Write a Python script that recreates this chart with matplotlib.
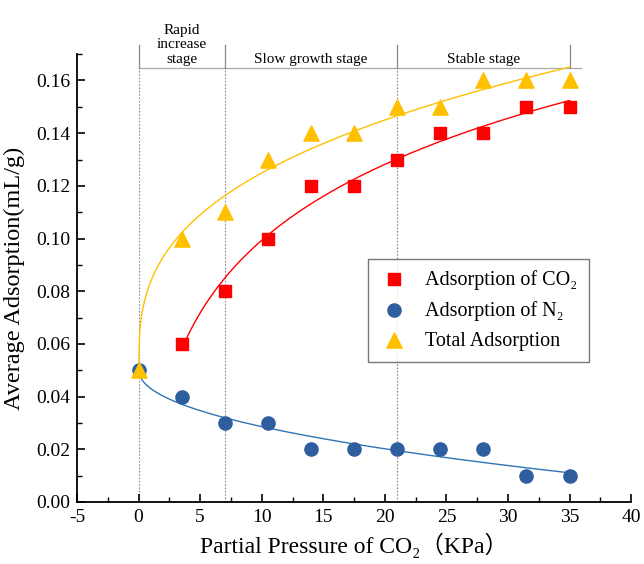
import numpy as np
import matplotlib.pyplot as plt
from matplotlib.ticker import MultipleLocator, FormatStrFormatter

plt.rcParams['font.family'] = ['Liberation Serif', 'DejaVu Serif', 'Noto Sans CJK SC']
plt.rcParams['axes.unicode_minus'] = False

# data
pressure = [0, 3.5, 7, 10.5, 14, 17.5, 21, 24.5, 28, 31.5, 35]
co2_x = [3.5, 7, 10.5, 14, 17.5, 21, 24.5, 28, 31.5, 35]
co2_ads = [0.06, 0.08, 0.10, 0.12, 0.12, 0.13, 0.14, 0.14, 0.15, 0.15]
n2_ads = [0.05, 0.04, 0.03, 0.03, 0.02, 0.02, 0.02, 0.02, 0.02, 0.01, 0.01]
total_ads = [0.05, 0.10, 0.11, 0.13, 0.14, 0.14, 0.15, 0.15, 0.16, 0.16, 0.16]

stage_edges = [0, 7, 21, 35]
stage_names = ["Rapid\nincrease\nstage", "Slow growth stage", "Stable stage"]
stage_centers = [3.5, 14, 28]


def fit_power(x, y):
    # y = a + b * x**c, grid over c, linear least squares for a, b
    x = np.asarray(x, float)
    y = np.asarray(y, float)
    best = None
    for c in np.linspace(0.05, 1.5, 300):
        A = np.column_stack([np.ones_like(x), x ** c])
        coef, *_ = np.linalg.lstsq(A, y, rcond=None)
        err = np.sum((A @ coef - y) ** 2)
        if best is None or err < best[0]:
            best = (err, coef, c)
    _, (a, b), c = best
    return lambda t: a + b * t ** c


fig = plt.figure(figsize=(6.44, 5.64), dpi=100)
ax = fig.add_axes([0.1196, 0.11, 0.8604, 0.794])

# fitted curves
xs = np.linspace(0, 35, 400)
f_tot = fit_power(pressure, total_ads)
ax.plot(xs, f_tot(xs), color="#FFC000", lw=1.0, zorder=2)
xc = np.linspace(3.5, 35, 300)
f_co2 = fit_power(co2_x, co2_ads)
ax.plot(xc, f_co2(xc), color="#FF0000", lw=1.0, zorder=2)
f_n2 = fit_power(pressure, n2_ads)
ax.plot(xs, f_n2(xs), color="#2E75B6", lw=1.0, zorder=2)

ax.scatter(co2_x, co2_ads, marker="s", s=80, color="#FF0000", label="Adsorption of CO₂", zorder=3)
ax.scatter(pressure, n2_ads, marker="o", s=90, color="#2E5E9E", label="Adsorption of N₂", zorder=3)
ax.scatter(pressure, total_ads, marker="^", s=120, color="#FFC000", label="Total Adsorption", zorder=4)

# stage annotations
y_line = 0.1647
ax.plot([0, 35.9], [y_line, y_line], color="#aaaaaa", lw=0.9, clip_on=False, zorder=1)
for xe in stage_edges:
    ax.plot([xe, xe], [y_line, 0.1735], color="#888888", lw=0.9, clip_on=False, zorder=1)
    if xe != 35:
        ax.plot([xe, xe], [0, y_line], color="#888888", lw=0.8, ls=(0, (1.5, 1.5)), zorder=1)
for xc_, name in zip(stage_centers, stage_names):
    ax.text(xc_, 0.1655, name, ha="center", va="bottom", fontsize=11, linespacing=1.15)

ax.set_xlim(-5, 40)
ax.set_ylim(0, 0.17)
ax.xaxis.set_major_locator(MultipleLocator(5))
ax.xaxis.set_minor_locator(MultipleLocator(2.5))
ax.set_yticks([0, 0.02, 0.04, 0.06, 0.08, 0.10, 0.12, 0.14, 0.16])
ax.yaxis.set_minor_locator(MultipleLocator(0.01))
ax.yaxis.set_major_formatter(FormatStrFormatter("%.2f"))
ax.tick_params(which="major", direction="in", length=6, width=1.2, labelsize=14, pad=5)
ax.tick_params(which="minor", direction="in", length=3.5, width=1.0)
for s in ["top", "right"]:
    ax.spines[s].set_visible(False)
for s in ["left", "bottom"]:
    ax.spines[s].set_linewidth(1.3)

ax.set_xlabel("Partial Pressure of CO₂（KPa）", fontsize=17, labelpad=5)
ax.set_ylabel("Average Adsorption(mL/g)", fontsize=17.5, labelpad=8)

leg = ax.legend(loc="upper left", bbox_to_anchor=(0.507, 0.566), fontsize=14.5,
                frameon=True, fancybox=False, edgecolor="#555555",
                handletextpad=0.8, borderpad=0.55, labelspacing=0.55, handlelength=1.5)
leg.get_frame().set_linewidth(1.0)

fig.savefig("out.png", dpi=100)
